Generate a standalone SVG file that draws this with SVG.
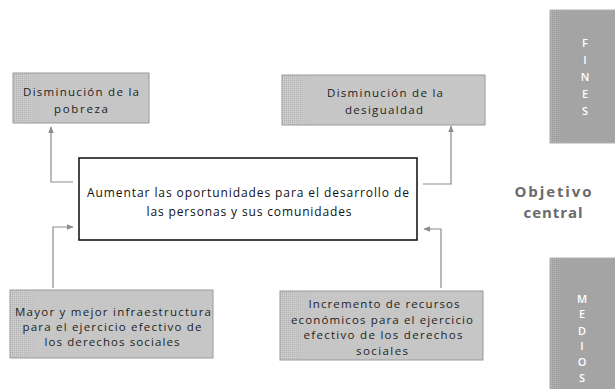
<svg xmlns="http://www.w3.org/2000/svg" width="615" height="389" viewBox="0 0 615 389">
  <defs>
    <pattern id="stip" width="2" height="2" patternUnits="userSpaceOnUse">
      <rect x="0" y="0" width="1" height="1" fill="#8a8a8a"/>
      <rect x="1" y="1" width="1" height="1" fill="#e6e6e6"/>
    </pattern>
    <linearGradient id="fadeL" x1="0" y1="0" x2="1" y2="0">
      <stop offset="0" stop-color="#fff" stop-opacity="0.45"/>
      <stop offset="1" stop-color="#fff" stop-opacity="0"/>
    </linearGradient>
    <mask id="leftMask" maskContentUnits="objectBoundingBox">
      <rect x="0" y="0" width="1" height="1" fill="url(#fadeL)"/>
    </mask>
    <marker id="arr" viewBox="0 0 10 10" refX="9" refY="5" markerWidth="7" markerHeight="7" orient="auto" markerUnits="userSpaceOnUse">
      <path d="M0,1 L10,5 L0,9 Z" fill="#8c8c8c"/>
    </marker>
  </defs>
  <style>
    .box { fill: #c6c6c6; stroke: #9a9a9a; stroke-width: 1; }
    .side { fill: #a4a4a4; stroke: #b0b0b0; stroke-width: 1; }
    .t { font-family: "Open Sans", "Liberation Sans", sans-serif; font-size: 11.5px; fill: #1e1e1e; text-anchor: middle; }
    .ct { font-family: "Open Sans", "Liberation Sans", sans-serif; font-size: 12px; fill: #111; text-anchor: middle; }
    .lt { font-family: "Open Sans", "Liberation Sans", sans-serif; font-size: 11px; font-weight: 600; fill: #ffffff; text-anchor: middle; }
    .obj { font-family: "Open Sans", "Liberation Sans", sans-serif; font-size: 15px; font-weight: bold; fill: #6a6a6a; text-anchor: middle; }
    .conn { fill: none; stroke: #8c8c8c; stroke-width: 1.2; }
  </style>
  <rect x="0" y="0" width="615" height="389" fill="#ffffff"/>

  <g id="connectors">
    <path class="conn" d="M73,182 H51 V127" marker-end="url(#arr)"/>
    <path class="conn" d="M423,184 H451 V126" marker-end="url(#arr)"/>
    <path class="conn" d="M53,288 V227 H73" marker-end="url(#arr)"/>
    <path class="conn" d="M441,288 V229 H424" marker-end="url(#arr)"/>
  </g>

  <g id="fin1">
    <rect class="box" x="13" y="73" width="136" height="50"/>
    <rect x="13.5" y="73.5" width="28" height="49" fill="url(#stip)" mask="url(#leftMask)"/>
    <text class="t" x="81" y="96" textLength="116" lengthAdjust="spacing">Disminución de la</text>
    <text class="t" x="81" y="113" textLength="54" lengthAdjust="spacing">pobreza</text>
  </g>

  <g id="fin2">
    <rect class="box" x="282" y="75" width="203" height="50"/>
    <rect x="282.5" y="75.5" width="30" height="49" fill="url(#stip)" mask="url(#leftMask)"/>
    <text class="t" x="385" y="97" textLength="116" lengthAdjust="spacing">Disminución de la</text>
    <text class="t" x="384" y="114" textLength="78" lengthAdjust="spacing">desigualdad</text>
  </g>

  <g id="central">
    <rect x="79" y="158" width="338" height="82" fill="#ffffff" stroke="#1a1a1a" stroke-width="1.6"/>
    <text class="ct" x="248" y="197" textLength="322" lengthAdjust="spacing">Aumentar las oportunidades para el desarrollo de</text>
    <text class="ct" x="249" y="216" textLength="205" lengthAdjust="spacing">las personas y sus comunidades</text>
  </g>

  <g id="medio1">
    <rect class="box" x="10" y="290" width="203" height="68"/>
    <rect x="10.5" y="290.5" width="30" height="67" fill="url(#stip)" mask="url(#leftMask)"/>
    <text class="t" x="113" y="316" textLength="196" lengthAdjust="spacing">Mayor y mejor infraestructura</text>
    <text class="t" x="112" y="331" textLength="179" lengthAdjust="spacing">para el ejercicio efectivo de</text>
    <text class="t" x="112" y="346" textLength="135" lengthAdjust="spacing">los derechos sociales</text>
  </g>

  <g id="medio2">
    <rect class="box" x="280" y="291" width="203" height="69"/>
    <rect x="280.5" y="291.5" width="30" height="68" fill="url(#stip)" mask="url(#leftMask)"/>
    <text class="t" x="384" y="308" textLength="151" lengthAdjust="spacing">Incremento de recursos</text>
    <text class="t" x="382" y="324" textLength="182" lengthAdjust="spacing">económicos para el ejercicio</text>
    <text class="t" x="383" y="339" textLength="159" lengthAdjust="spacing">efectivo de los derechos</text>
    <text class="t" x="382" y="355" textLength="52" lengthAdjust="spacing">sociales</text>
  </g>

  <g id="fines">
    <rect class="side" x="550" y="10" width="66" height="133"/>
    <rect x="550.5" y="10.5" width="14" height="132" fill="url(#stip)" mask="url(#leftMask)"/>
    <text class="lt" x="585" y="47">F</text>
    <text class="lt" x="585" y="64">I</text>
    <text class="lt" x="585" y="81">N</text>
    <text class="lt" x="585" y="98">E</text>
    <text class="lt" x="585" y="115">S</text>
  </g>

  <g id="objetivo">
    <text class="obj" x="553" y="197" textLength="77" lengthAdjust="spacing">Objetivo</text>
    <text class="obj" x="553" y="218" textLength="59" lengthAdjust="spacing">central</text>
  </g>

  <g id="medios">
    <rect class="side" x="550" y="258" width="66" height="132"/>
    <rect x="550.5" y="258.5" width="14" height="131" fill="url(#stip)" mask="url(#leftMask)"/>
    <text class="lt" x="582" y="303">M</text>
    <text class="lt" x="582" y="318">E</text>
    <text class="lt" x="582" y="335">D</text>
    <text class="lt" x="582" y="350">I</text>
    <text class="lt" x="582" y="366">O</text>
    <text class="lt" x="582" y="382">S</text>
  </g>
</svg>
